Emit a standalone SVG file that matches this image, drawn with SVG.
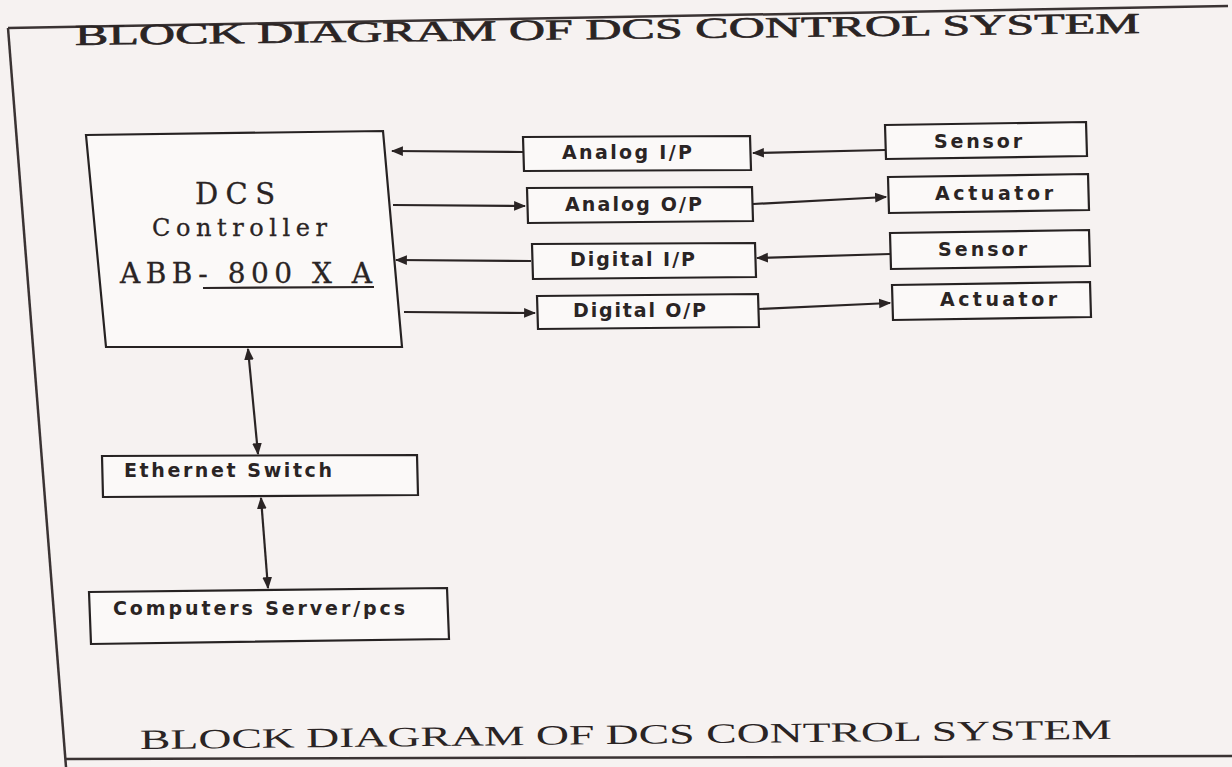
<svg xmlns="http://www.w3.org/2000/svg" width="1232" height="767" viewBox="0 0 1232 767">
<style>
.box{fill:#fbf9f8;stroke:#262222;stroke-width:2.2}
.lbl{font-family:"DejaVu Sans","Open Sans",sans-serif;font-weight:bold;font-size:19px;fill:#2a2424}
.ser{font-family:"DejaVu Serif","Liberation Serif",serif;fill:#2a2424}
.ttl{font-family:"Liberation Serif","DejaVu Serif",serif;fill:#2a2424}
.ln{stroke:#2a2424;stroke-width:2.2;fill:none}
.frame{stroke:#3a3333;stroke-width:2.5;fill:none}
</style>
<defs>
<marker id="ah" viewBox="0 0 10 10" refX="9" refY="5" markerWidth="5.5" markerHeight="5.5" orient="auto-start-reverse">
<path d="M0,1 L10,5 L0,9 z" fill="#2a2424"/>
</marker>
</defs>
<rect width="1232" height="767" fill="#f6f2f1"/>
<g id="frame">
<path class="frame" d="M8,28 L1228,6"/>
<path class="frame" d="M8,28 L66,767"/>
<path class="frame" d="M66,759 L1232,756"/>
</g>
<g id="title-top">
<text class="ttl" x="75" y="45" font-size="29" stroke="#2a2424" stroke-width="0.6" textLength="1065" lengthAdjust="spacingAndGlyphs" transform="rotate(-0.65 75 45)">BLOCK DIAGRAM OF DCS CONTROL SYSTEM</text>
</g>
<g id="controller">
<polygon class="box" points="86,135 383,131 402,347 106,347"/>
<text class="ser" x="195" y="204" font-size="29" textLength="80" lengthAdjust="spacing" stroke="#2a2424" stroke-width="0.3">DCS</text>
<text class="ser" x="152" y="236" font-size="24" textLength="175" lengthAdjust="spacing" stroke="#2a2424" stroke-width="0.3">Controller</text>
<text class="ser" x="120" y="283" font-size="28" textLength="252" lengthAdjust="spacing" stroke="#2a2424" stroke-width="0.3">ABB- 800 X A</text>
<path class="ln" d="M203,288 L374,287" stroke-width="1.8"/>
</g>
<g id="analog-ip"><polygon class="box" points="523,137 750,136 751,170 524,171"/><text class="lbl" x="562" y="159" textLength="130" lengthAdjust="spacing">Analog I/P</text></g>
<g id="analog-op"><polygon class="box" points="527,188 752,187 753,221 528,223"/><text class="lbl" x="565" y="211" textLength="137" lengthAdjust="spacing">Analog O/P</text></g>
<g id="digital-ip"><polygon class="box" points="532,244 755,243 756,277 533,279"/><text class="lbl" x="570" y="266" textLength="125" lengthAdjust="spacing">Digital I/P</text></g>
<g id="digital-op"><polygon class="box" points="537,296 758,294 759,327 538,329"/><text class="lbl" x="573" y="317" textLength="133" lengthAdjust="spacing">Digital O/P</text></g>
<g id="sensor1"><polygon class="box" points="885,125 1086,122 1087,156 886,159"/><text class="lbl" x="934" y="148" textLength="88" lengthAdjust="spacing">Sensor</text></g>
<g id="actuator1"><polygon class="box" points="888,177 1088,174 1089,210 889,213"/><text class="lbl" x="935" y="200" textLength="118" lengthAdjust="spacing">Actuator</text></g>
<g id="sensor2"><polygon class="box" points="890,233 1089,230 1090,266 891,269"/><text class="lbl" x="938" y="256" textLength="89" lengthAdjust="spacing">Sensor</text></g>
<g id="actuator2"><polygon class="box" points="892,285 1090,282 1091,317 893,320"/><text class="lbl" x="940" y="306" textLength="117" lengthAdjust="spacing">Actuator</text></g>
<g id="ethernet"><polygon class="box" points="102,456 417,455 418,495 103,497"/><text class="lbl" x="124" y="477" textLength="208" lengthAdjust="spacing">Ethernet Switch</text></g>
<g id="computers"><polygon class="box" points="89,592 447,588 449,639 91,644"/><text class="lbl" x="113" y="615" textLength="292" lengthAdjust="spacing">Computers Server/pcs</text></g>
<g id="connectors">
<path class="ln" d="M523,152 L392,151" marker-end="url(#ah)"/>
<path class="ln" d="M393,205 L525,206" marker-end="url(#ah)"/>
<path class="ln" d="M531,261 L396,260" marker-end="url(#ah)"/>
<path class="ln" d="M404,312 L535,313" marker-end="url(#ah)"/>
<path class="ln" d="M885,150 L753,153" marker-end="url(#ah)"/>
<path class="ln" d="M753,204 L886,197" marker-end="url(#ah)"/>
<path class="ln" d="M890,254 L757,258" marker-end="url(#ah)"/>
<path class="ln" d="M759,309 L890,303" marker-end="url(#ah)"/>
<path class="ln" d="M248,349 L258,454" marker-start="url(#ah)" marker-end="url(#ah)" stroke-width="2.6"/>
<path class="ln" d="M261,498 L268,588" marker-start="url(#ah)" marker-end="url(#ah)" stroke-width="2.6"/>
</g>
<g id="title-bottom">
<text class="ttl" x="140" y="749" font-size="28" textLength="972" lengthAdjust="spacingAndGlyphs" transform="rotate(-0.6 140 749)">BLOCK DIAGRAM OF DCS CONTROL SYSTEM</text>
</g>
</svg>
